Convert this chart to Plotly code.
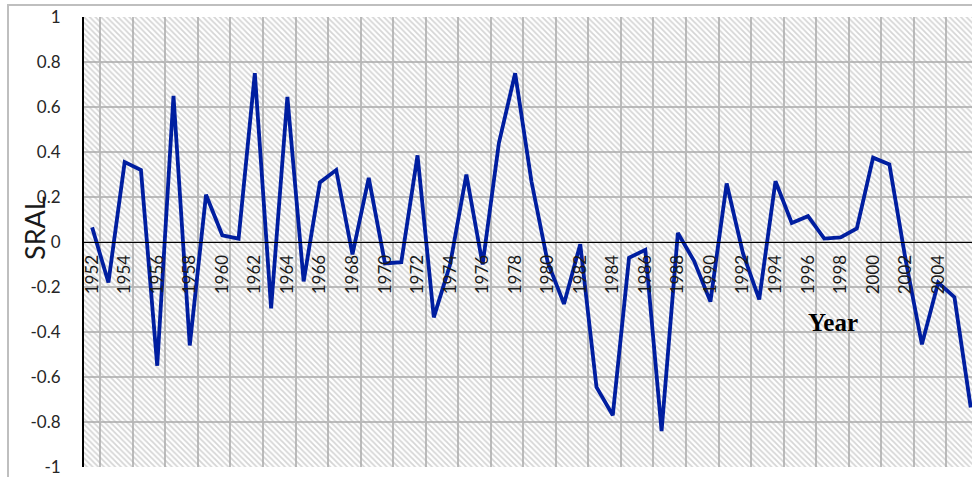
import plotly.graph_objects as go

years = list(range(1952, 2007))
sral = [0.065, -0.18, 0.355, 0.32, -0.55, 0.65, -0.46, 0.21, 0.03, 0.015,
        0.75, -0.295, 0.645, -0.175, 0.265, 0.32, -0.055, 0.285, -0.095, -0.09,
        0.385, -0.335, -0.1, 0.30, -0.1, 0.44, 0.75, 0.27, -0.09, -0.275,
        -0.01, -0.645, -0.77, -0.07, -0.035, -0.84, 0.04, -0.085, -0.265, 0.26,
        -0.05, -0.255, 0.27, 0.085, 0.115, 0.015, 0.02, 0.06, 0.375, 0.345,
        -0.08, -0.455, -0.18, -0.245, -0.735]
x_tick_years = years[::2]
y_ticks = [1, 0.8, 0.6, 0.4, 0.2, 0, -0.2, -0.4, -0.6, -0.8, -1]
y_tick_text = ["1", "0.8", "0.6", "0.4", "0.2", "0", "-0.2", "-0.4", "-0.6", "-0.8", "-1"]

W, H = 972, 477
ML, MR, MT, MB = 84, 0, 17, 10
x_lo = years[0] - 0.5
x_hi = x_lo + (W - ML - MR) / 16.27
y_lo, y_hi = -1, 1
PW, PH = W - ML - MR, H - MT - MB

fig = go.Figure()
# hatched background of the plot area
fig.add_trace(go.Scatter(
    x=[x_lo, x_hi + 1, x_hi + 1, x_lo, x_lo], y=[y_lo, y_lo, y_hi, y_hi, y_lo],
    fill="toself", mode="none", fillcolor="rgba(0,0,0,0)",
    fillpattern=dict(shape="\\", size=4, solidity=0.45, fgcolor="#acacac",
                     bgcolor="rgba(0,0,0,0)", fillmode="overlay"),
    hoverinfo="skip", showlegend=False))
fig.add_trace(go.Scatter(
    x=years, y=sral, mode="lines",
    line=dict(color="#001EA0", width=3.8), showlegend=False))

fig.update_layout(
    width=W, height=H,
    margin=dict(l=ML, r=MR, t=MT, b=MB, autoexpand=False),
    paper_bgcolor="white", plot_bgcolor="white",
    font=dict(family="Lato", color="#262626"),
    xaxis=dict(
        range=[x_lo, x_hi], anchor="free", position=0.5, automargin=False,
        tickvals=x_tick_years, ticktext=[str(y) for y in x_tick_years],
        tickangle=-90, ticks="", ticklabelstandoff=5,
        tickfont=dict(family="Lato", size=17, color="#1a1a1a"),
        showgrid=False, zeroline=False,
        showline=True, linecolor="black", linewidth=1,
        minor=dict(tick0=years[0] + 0.5, dtick=2, showgrid=True,
                   gridcolor="#bdbdbd", gridwidth=1.5, ticks=""),
    ),
    yaxis=dict(
        range=[y_lo, y_hi], domain=[0, 1], automargin=False,
        tickvals=y_ticks, ticktext=y_tick_text, ticks="",
        ticklabelstandoff=18,
        tickfont=dict(family="Lato", size=17, color="#262626"),
        showgrid=True, gridcolor="#bdbdbd", gridwidth=1.5,
        zeroline=False, showline=True, linecolor="black", linewidth=2,
    ),
    annotations=[
        dict(text="SRAL", xref="paper", yref="paper",
             x=(34 - ML) / PW, y=(H - MB - 228) / PH,
             xanchor="center", yanchor="middle",
             textangle=-90, showarrow=False,
             font=dict(family="Lato", size=27, color="#1a1a1a")),
        dict(text="<b>Year</b>", xref="paper", yref="paper",
             x=(833 - ML) / PW, y=(H - MB - 322) / PH,
             xanchor="center", yanchor="middle", showarrow=False,
             font=dict(family="Liberation Serif", size=25, color="black")),
    ],
    shapes=[
        dict(type="rect", xref="paper", yref="paper",
             x0=(8 - ML) / PW, x1=1.2,
             y0=-0.2, y1=1 + (MT - 5) / PH,
             line=dict(color="#bfbfbf", width=2), layer="below"),
    ],
)

fig.write_html("out.html", config={"displayModeBar": False},
               post_script="document.body.style.margin='0';document.body.style.overflow='hidden';")
